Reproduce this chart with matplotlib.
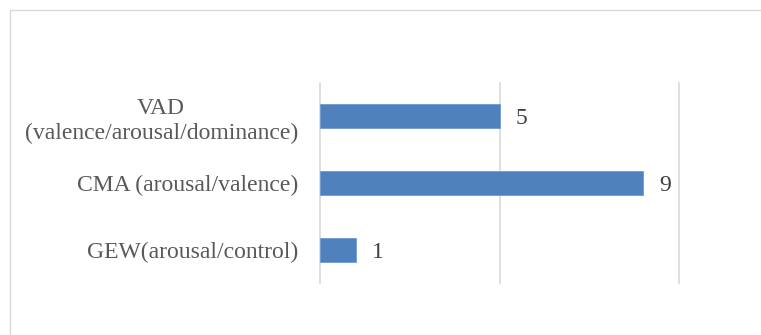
import matplotlib.pyplot as plt
from matplotlib.patches import Rectangle

categories = ["VAD\n(valence/arousal/dominance)", "CMA (arousal/valence)", "GEW(arousal/control)"]
counts = [5, 9, 1]
x_ticks = [0, 5, 10]

plt.rcParams['font.family'] = ['Liberation Serif', 'DejaVu Serif']

W, H = 761, 335
fig = plt.figure(figsize=(W / 100, H / 100), dpi=100)

# light chart-area frame
fig.patches.append(Rectangle((10 / W, -0.1), 1.2, 1 - 10 / H + 0.1,
                             transform=fig.transFigure, fill=False,
                             edgecolor='#D9D9D9', linewidth=1.0))

ax = fig.add_axes([320 / W, (H - 283) / H, 359 / W, 200 / H])
ypos = list(range(len(categories)))
ax.barh(ypos, counts, height=0.36, color='#4F81BD', edgecolor='#6F9AD0', linewidth=0.6, zorder=3)
ax.set_ylim(len(categories) - 0.5, -0.5)
ax.set_xlim(x_ticks[0], x_ticks[-1])
ax.set_xticks(x_ticks)
ax.xaxis.grid(True, color='#D9D9D9', linewidth=1.2, zorder=0)
for gl in ax.get_xgridlines():
    gl.set_clip_on(False)
ax.tick_params(axis='x', bottom=False, labelbottom=False)
ax.tick_params(axis='y', left=False, length=0, pad=16, labelsize=17, labelcolor='#595959')
ax.set_yticks(ypos)
ax.set_yticklabels(categories)
for lbl in ax.get_yticklabels():
    lbl.set_multialignment('center')
    lbl.set_linespacing(1.28)
for s in ax.spines.values():
    s.set_visible(False)

for y, v in zip(ypos, counts):
    ax.annotate(str(v), (v, y), xytext=(16, 0), textcoords='offset pixels',
                va='center_baseline', ha='left', fontsize=17, color='#404040')

fig.savefig('out.png', dpi=100)
